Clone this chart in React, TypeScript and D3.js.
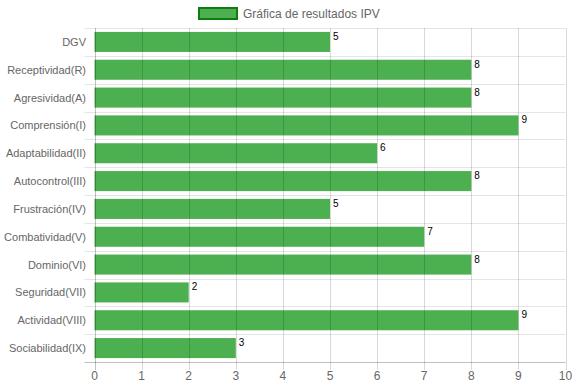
import React from 'react';
import * as d3 from 'd3';

const categories = [
  'DGV',
  'Receptividad(R)',
  'Agresividad(A)',
  'Comprensión(I)',
  'Adaptabilidad(II)',
  'Autocontrol(III)',
  'Frustración(IV)',
  'Combatividad(V)',
  'Dominio(VI)',
  'Seguridad(VII)',
  'Actividad(VIII)',
  'Sociabilidad(IX)',
];
const values = [5, 8, 8, 9, 6, 8, 5, 7, 8, 2, 9, 3];
const xTicks = [0, 1, 2, 3, 4, 5, 6, 7, 8, 9, 10];
const seriesName = 'Gráfica de resultados IPV';

const W = 574;
const H = 386;
const font = 'Arial, "Liberation Sans", Helvetica, sans-serif';

const App = () => {
  const left = 94.5;
  const right = 565.5;
  const top = 28;
  const bottom = 362;

  const x = d3.scaleLinear().domain([0, 10]).range([left, right]);
  const y = d3.scaleBand<string>().domain(categories).range([top, bottom]);
  const barH = y.bandwidth() * 0.72;

  const gridLines = d3.range(categories.length + 1).map(i => top + i * y.step());

  return (
    <svg width={W} height={H} style={{ position: 'absolute', left: 0, top: 0, background: '#fff' }}>
      {/* legend */}
      <rect x={199} y={8} width={38} height={11} fill="#4CAF50" stroke="#0d7d0d" strokeWidth={2} />
      <text x={243} y={17.5} fontFamily={font} fontSize={12} fill="#666">{seriesName}</text>

      {/* bars */}
      {categories.map((c, i) => (
        <rect
          key={c}
          x={x(0)}
          y={(y(c) ?? 0) + (y.bandwidth() - barH) / 2}
          width={x(values[i]) - x(0)}
          height={barH}
          fill="#4CAF50"
        />
      ))}

      {/* horizontal grid */}
      {gridLines.map((gy, i) => (
        <line key={'h' + i} x1={left - 10} x2={right} y1={Math.round(gy) + 0.5} y2={Math.round(gy) + 0.5}
          stroke={i === categories.length ? 'rgba(0,0,0,0.25)' : 'rgba(0,0,0,0.1)'} />
      ))}

      {/* vertical grid */}
      {xTicks.map(t => (
        <line key={'v' + t} x1={Math.round(x(t)) + 0.5} x2={Math.round(x(t)) + 0.5} y1={top} y2={bottom + 8}
          stroke={t === 0 ? 'rgba(0,0,0,0.25)' : 'rgba(0,0,0,0.15)'} />
      ))}

      {/* x tick labels */}
      {xTicks.map(t => (
        <text key={'xt' + t} x={x(t)} y={380} textAnchor="middle" fontFamily={font} fontSize={12} fill="#666">{t}</text>
      ))}

      {/* y labels */}
      {categories.map(c => (
        <text key={'yl' + c} x={86} y={(y(c) ?? 0) + y.bandwidth() / 2 + 4} textAnchor="end" fontFamily={font} fontSize={11} fill="#666">{c}</text>
      ))}

      {/* value labels */}
      {categories.map((c, i) => (
        <text key={'vl' + c} x={x(values[i]) + 3} y={(y(c) ?? 0) + (y.bandwidth() - barH) / 2 + 8} fontFamily={font} fontSize={10} fill="#000">{values[i]}</text>
      ))}
    </svg>
  );
};

export default App;
